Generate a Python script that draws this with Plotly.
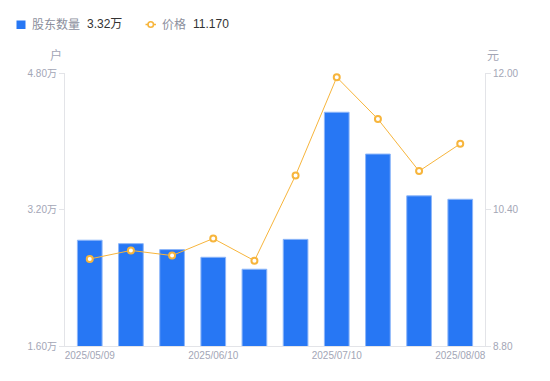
import plotly.graph_objects as go

dates = ["2025/05/09", "2025/05/20", "2025/05/30", "2025/06/10", "2025/06/20",
         "2025/06/30", "2025/07/10", "2025/07/20", "2025/07/31", "2025/08/08"]
holders = [2.84, 2.80, 2.73, 2.64, 2.50, 2.85, 4.34, 3.85, 3.36, 3.32]  # 万户
prices = [9.82, 9.92, 9.86, 10.06, 9.80, 10.80, 11.95, 11.46, 10.85, 11.17]
xtick_dates = ["2025/05/09", "2025/06/10", "2025/07/10", "2025/08/08"]
left_ticks = [1.60, 3.20, 4.80]
right_ticks = [8.80, 10.40, 12.00]

BLUE = "#2777f4"
ORANGE = "#f7b53c"
GRAY = "#a3a6b6"
LEG_GRAY = "#8c8f9d"
DARK = "#333333"
AXIS = "#e3e4e8"
FONT = "Liberation Sans, Arial, Noto Sans CJK SC, sans-serif"

W, H = 550, 381
L, R, T, B = 65, 65, 73, 35
PW, PH = W - L - R, H - T - B


def px(x):
    return (x - L) / PW


def py(y):
    return (H - B - y) / PH


fig = go.Figure()
fig.add_trace(go.Bar(
    x=dates, y=holders, name="股东数量",
    marker=dict(color=BLUE, line=dict(color="#8db6f9", width=1)),
    width=0.6, yaxis="y", showlegend=False,
))
fig.add_trace(go.Scatter(
    x=dates, y=prices, name="价格",
    mode="lines+markers",
    line=dict(color=ORANGE, width=1),
    marker=dict(symbol="circle", size=6, color="white", line=dict(color=ORANGE, width=2)),
    yaxis="y2", showlegend=False,
))

leg_y = py(24.5)
annotations = [
    dict(text="户", xref="paper", yref="paper", x=0, y=1, xanchor="right",
         yanchor="bottom", xshift=-1, yshift=8, showarrow=False,
         font=dict(size=12, color=GRAY, family=FONT)),
    dict(text="元", xref="paper", yref="paper", x=1, y=1, xanchor="left",
         yanchor="bottom", xshift=0, yshift=8, showarrow=False,
         font=dict(size=12, color=GRAY, family=FONT)),
    dict(text="股东数量", xref="paper", yref="paper", x=px(30), y=leg_y,
         xanchor="left", yanchor="middle", showarrow=False,
         font=dict(size=12, color=LEG_GRAY, family=FONT)),
    dict(text="%.2f万" % holders[-1], xref="paper", yref="paper", x=px(85), y=leg_y,
         xanchor="left", yanchor="middle", showarrow=False,
         font=dict(size=12, color=DARK, family=FONT)),
    dict(text="价格", xref="paper", yref="paper", x=px(160), y=leg_y,
         xanchor="left", yanchor="middle", showarrow=False,
         font=dict(size=12, color=LEG_GRAY, family=FONT)),
    dict(text="%.3f" % prices[-1], xref="paper", yref="paper", x=px(191), y=leg_y,
         xanchor="left", yanchor="middle", showarrow=False,
         font=dict(size=12, color=DARK, family=FONT)),
]
shapes = [
    dict(type="rect", xref="paper", yref="paper", x0=px(16.5), x1=px(25.5),
         y0=py(29), y1=py(20.5), fillcolor=BLUE, line=dict(width=0)),
    dict(type="line", xref="paper", yref="paper", x0=px(145.5), x1=px(156),
         y0=leg_y, y1=leg_y, line=dict(color=ORANGE, width=1.5)),
    dict(type="circle", xref="paper", yref="paper", x0=px(148), x1=px(153.5),
         y0=py(27.3), y1=py(21.8), fillcolor="white", line=dict(color=ORANGE, width=1.6)),
]

fig.update_layout(
    width=W, height=H,
    margin=dict(l=L, r=R, t=T, b=B),
    paper_bgcolor="white", plot_bgcolor="white",
    font=dict(family=FONT, size=10, color=GRAY),
    showlegend=False,
    xaxis=dict(
        type="category", categoryorder="array", categoryarray=dates,
        tickvals=xtick_dates, ticktext=xtick_dates,
        showline=True, linecolor=AXIS, linewidth=1,
        ticks="", showgrid=False, zeroline=False,
        tickfont=dict(size=10, color=GRAY), fixedrange=True,
    ),
    yaxis=dict(
        range=[left_ticks[0], left_ticks[-1]],
        tickvals=left_ticks, ticktext=["%.2f万" % v for v in left_ticks],
        showline=True, linecolor=AXIS, linewidth=1,
        ticks="outside", ticklen=5, tickcolor=AXIS,
        showgrid=False, zeroline=False,
        tickfont=dict(size=10, color=GRAY),
    ),
    yaxis2=dict(
        range=[right_ticks[0], right_ticks[-1]], overlaying="y", side="right",
        tickvals=right_ticks, ticktext=["%.2f" % v for v in right_ticks],
        showline=True, linecolor=AXIS, linewidth=1,
        ticks="outside", ticklen=5, tickcolor=AXIS,
        showgrid=False, zeroline=False,
        tickfont=dict(size=10, color=GRAY),
    ),
    bargap=0.4,
    annotations=annotations,
    shapes=shapes,
)

fig.write_html("out.html", config={"displayModeBar": False},
               post_script="document.body.style.margin='0';")
